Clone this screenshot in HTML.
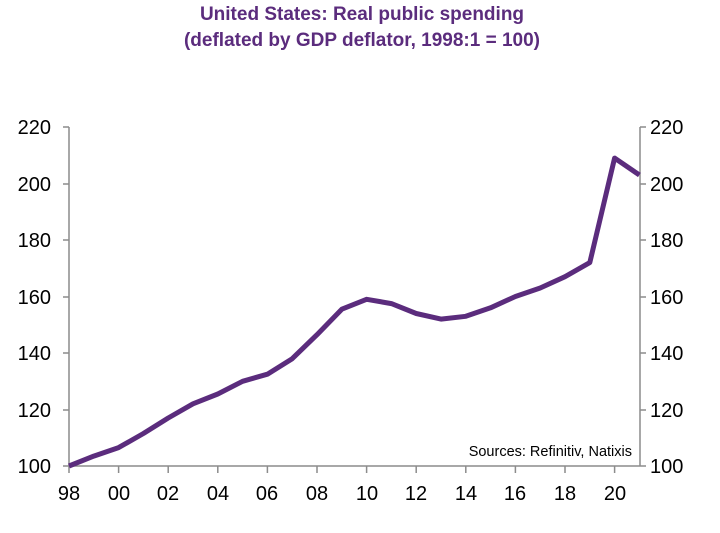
<!DOCTYPE html>
<html><head><style>
body{margin:0;background:#fff;width:720px;height:528px;overflow:hidden}
svg{font-family:"Liberation Sans",Arial,sans-serif}
</style></head><body>
<svg width="720" height="528" viewBox="0 0 720 528">
<text x="362" y="20" text-anchor="middle" font-size="19" font-weight="bold" fill="#5b2c7d">United States: Real public spending</text>
<text x="362" y="46" text-anchor="middle" font-size="19" font-weight="bold" fill="#5b2c7d">(deflated by GDP deflator, 1998:1 = 100)</text>
<g stroke="#8c8c8c" stroke-width="1.5" fill="none">
<line x1="69" y1="127" x2="69" y2="466"/>
<line x1="640" y1="127" x2="640" y2="466"/>
<line x1="69" y1="466" x2="640" y2="466"/>
<path d="M63 127h6M63 184h6M63 240h6M63 297h6M63 353h6M63 410h6M63 466h6
M640 127h6M640 184h6M640 240h6M640 297h6M640 353h6M640 410h6M640 466h6
M69 466v7M118.6 466v7M168.2 466v7M217.8 466v7M267.4 466v7M317 466v7M366.6 466v7M416.2 466v7M465.8 466v7M515.4 466v7M565 466v7M614.6 466v7"/>
</g>
<g font-size="20" fill="#000" text-anchor="end">
<text x="51" y="134">220</text><text x="51" y="191">200</text><text x="51" y="247">180</text><text x="51" y="304">160</text><text x="51" y="360">140</text><text x="51" y="417">120</text><text x="51" y="473">100</text>
</g>
<g font-size="20" fill="#000" text-anchor="start">
<text x="650" y="134">220</text><text x="650" y="191">200</text><text x="650" y="247">180</text><text x="650" y="304">160</text><text x="650" y="360">140</text><text x="650" y="417">120</text><text x="650" y="473">100</text>
</g>
<g font-size="20" fill="#000" text-anchor="middle">
<text x="69" y="500">98</text><text x="119" y="500">00</text><text x="168" y="500">02</text><text x="218" y="500">04</text><text x="267" y="500">06</text><text x="317" y="500">08</text><text x="367" y="500">10</text><text x="416" y="500">12</text><text x="466" y="500">14</text><text x="515" y="500">16</text><text x="565" y="500">18</text><text x="615" y="500">20</text>
</g>
<text x="632" y="456" text-anchor="end" font-size="14.5" fill="#000">Sources: Refinitiv, Natixis</text>
<polyline fill="none" stroke="#5b2c7d" stroke-width="5" stroke-linejoin="round"
points="69,466 93.8,456.1 118.6,447.6 143.4,433.5 168.2,418 193,403.8 217.8,394 242.6,381.3 267.4,374.2 292.2,358.7 317,334.7 341.8,309.2 366.6,299.3 391.4,303.6 416.2,313.5 441,319.1 465.8,316.3 490.6,307.8 515.4,296.5 540.2,288 565,276.7 589.8,262.6 614.6,158.1 639.4,175"/>
</svg>
</body></html>
